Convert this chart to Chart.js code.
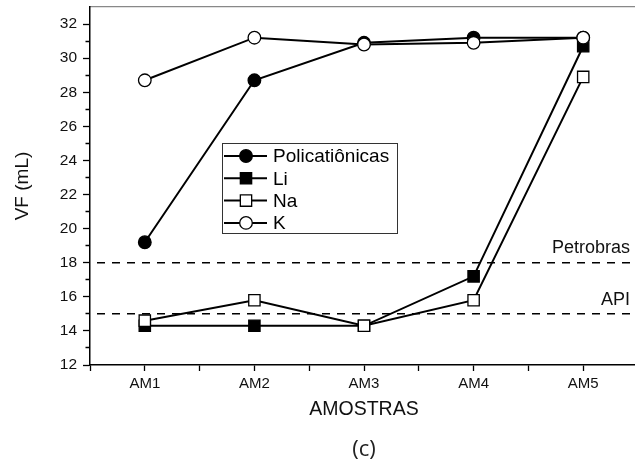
<!DOCTYPE html>
<html lang="pt-br">
<head>
<meta charset="UTF-8">
<title>VF x Amostras</title>
<script src="https://cdn.jsdelivr.net/npm/chart.js@4/dist/chart.umd.min.js"></script>
<style>
    body { margin: 0; background: #fff; }
    .quadro { width: 635px; height: 468px; overflow: hidden; position: relative; }
    canvas { position: absolute; left: 0; top: 0; }
</style>
</head>
<body>
<div class="quadro">
    <canvas id="canvas_grafico" width="638" height="468"></canvas>
</div>

<script>
    // amostras e volumes de filtrado (mL)
    const amostras = ['AM1', 'AM2', 'AM3', 'AM4', 'AM5'];
    const policationicas = [19.2, 28.7, 30.9, 31.2, 31.2];
    const li = [14.3, 14.3, 14.3, 17.2, 30.7];
    const na = [14.6, 15.8, 14.3, 15.8, 28.9];
    const k = [28.7, 31.2, 30.8, 30.9, 31.2];

    // limites de referencia
    const limitePetrobras = 18;
    const limiteAPI = 15;

    const fonte = "'Liberation Sans', Arial, sans-serif";

    function pontos(valores) {
        return valores.map(function (v, i) { return { x: i + 1, y: v }; });
    }

    function linhaLimite(valor) {
        return [{ x: 0.5, y: valor }, { x: 5.5, y: valor }];
    }

    const serie = {
        borderColor: '#000',
        borderWidth: 2,
        pointBorderColor: '#000',
        pointBorderWidth: 1.3,
        tension: 0
    };

    // legenda em caixa dentro da area do grafico
    const legendaQuadro = {
        id: 'legendaQuadro',
        afterDatasetsDraw(chart) {
            const ctx = chart.ctx;
            const itens = chart.data.datasets.filter(function (d) { return d.naLegenda; });
            ctx.save();
            ctx.strokeStyle = '#333';
            ctx.lineWidth = 1;
            ctx.fillStyle = '#fff';
            ctx.fillRect(222, 143, 175, 90);
            ctx.strokeRect(222.5, 143.5, 175, 90);
            itens.forEach(function (d, i) {
                const y = 156 + i * 22.3;
                ctx.strokeStyle = '#000';
                ctx.lineWidth = 2;
                ctx.beginPath();
                ctx.moveTo(224, y);
                ctx.lineTo(267, y);
                ctx.stroke();
                ctx.fillStyle = d.pointBackgroundColor;
                ctx.strokeStyle = '#000';
                ctx.lineWidth = 1.3;
                Chart.helpers.drawPoint(ctx, { pointStyle: d.pointStyle, rotation: 0, radius: d.pointRadius, borderWidth: 1.3 }, 246, y);
                ctx.fillStyle = '#000';
                ctx.font = '19px ' + fonte;
                ctx.textBaseline = 'middle';
                ctx.textAlign = 'left';
                ctx.fillText(d.label, 273, y + 1);
            });
            ctx.restore();
        }
    };

    // rotulos das linhas de limite
    const rotulosLimite = {
        id: 'rotulosLimite',
        afterDatasetsDraw(chart) {
            const ctx = chart.ctx;
            const escalaY = chart.scales.y;
            const xDir = chart.chartArea.right - 8;
            ctx.save();
            ctx.fillStyle = '#111';
            ctx.font = '18px ' + fonte;
            ctx.textAlign = 'right';
            ctx.textBaseline = 'middle';
            ctx.fillText('Petrobras', xDir, escalaY.getPixelForValue(limitePetrobras) - 15);
            ctx.fillText('API', xDir, escalaY.getPixelForValue(limiteAPI) - 14);
            ctx.restore();
        }
    };

    const ctx = document.getElementById('canvas_grafico').getContext('2d');
    const myChart = new Chart(ctx, {
        type: 'line',
        data: {
            datasets: [
                Object.assign({}, serie, {
                    label: 'Policatiônicas', data: pontos(policationicas), naLegenda: true,
                    pointStyle: 'circle', pointRadius: 6.3, pointBackgroundColor: '#000', order: 3
                }),
                Object.assign({}, serie, {
                    label: 'Li', data: pontos(li), naLegenda: true,
                    pointStyle: 'rect', pointRadius: 8, pointBackgroundColor: '#000', order: 2
                }),
                Object.assign({}, serie, {
                    label: 'Na', data: pontos(na), naLegenda: true,
                    pointStyle: 'rect', pointRadius: 8, pointBackgroundColor: '#fff', order: 1
                }),
                Object.assign({}, serie, {
                    label: 'K', data: pontos(k), naLegenda: true,
                    pointStyle: 'circle', pointRadius: 6.3, pointBackgroundColor: '#fff', order: 0
                }),
                {
                    label: 'Petrobras', data: linhaLimite(limitePetrobras),
                    borderColor: '#000', borderWidth: 1.5, borderDash: [8, 7], borderDashOffset: 8,
                    pointRadius: 0, order: 5
                },
                {
                    label: 'API', data: linhaLimite(limiteAPI),
                    borderColor: '#000', borderWidth: 1.5, borderDash: [8, 7], borderDashOffset: 8,
                    pointRadius: 0, order: 5
                }
            ]
        },
        options: {
            responsive: false,
            animation: false,
            devicePixelRatio: 1,
            layout: { autoPadding: false, padding: { top: 7, left: 0, right: 0, bottom: 0 } },
            plugins: {
                legend: { display: false },
                tooltip: { enabled: false },
                title: {
                    display: true,
                    text: '(c)',
                    position: 'bottom',
                    fullSize: false,
                    color: '#222',
                    font: { family: "'Open Sans', 'Noto Sans', sans-serif", size: 22, weight: 'normal' },
                    padding: { top: 4, bottom: 5 }
                }
            },
            scales: {
                x: {
                    type: 'linear',
                    position: 'bottom',
                    min: 0.5,
                    max: 5.5,
                    afterFit: function (scale) {
                        scale.height = 67.6;
                        scale.paddingLeft = 0;
                        scale.paddingRight = 0;
                    },
                    border: { color: '#000', width: 1.5 },
                    grid: { drawOnChartArea: false, drawTicks: true, tickLength: 6, tickColor: '#000', tickWidth: 1.3 },
                    ticks: {
                        stepSize: 0.5,
                        autoSkip: false,
                        maxRotation: 0,
                        padding: 4,
                        color: '#111',
                        font: { family: fonte, size: 15 },
                        callback: function (v) { return Number.isInteger(v) ? amostras[v - 1] : ''; }
                    },
                    title: {
                        display: true,
                        text: 'AMOSTRAS',
                        color: '#111',
                        font: { family: fonte, size: 19.5 },
                        padding: { top: 0, bottom: 11 }
                    }
                },
                topo: {
                    type: 'linear',
                    position: 'top',
                    display: true,
                    min: 0.5,
                    max: 5.5,
                    afterFit: function (scale) {
                        scale.height = 0;
                        scale.paddingLeft = 0;
                        scale.paddingRight = 0;
                    },
                    border: { color: '#888', width: 1.3 },
                    grid: { drawOnChartArea: false, drawTicks: false },
                    ticks: { display: false }
                },
                y: {
                    min: 12,
                    max: 33,
                    afterFit: function (scale) {
                        scale.width = 90;
                        scale.paddingTop = 0;
                        scale.paddingBottom = 0;
                    },
                    afterBuildTicks: function (scale) {
                        scale.ticks = scale.ticks.filter(function (t) { return t.value <= 32; });
                    },
                    border: { color: '#000', width: 1.5 },
                    grid: {
                        drawOnChartArea: false,
                        drawTicks: true,
                        tickLength: 7,
                        tickColor: '#000',
                        tickWidth: 1.3,
                        // marcas menores nos valores impares
                        tickBorderDash: function (c) { return c.tick && c.tick.value % 2 ? [0, 2.5, 4, 30] : []; }
                    },
                    ticks: {
                        stepSize: 1,
                        autoSkip: false,
                        padding: 6,
                        color: '#111',
                        font: { family: fonte, size: 15.5 },
                        callback: function (v) { return v % 2 === 0 ? v : ''; }
                    },
                    title: {
                        display: true,
                        text: 'VF (mL)',
                        color: '#111',
                        font: { family: fonte, size: 19 },
                        padding: { top: 11, bottom: 0 }
                    }
                }
            }
        },
        plugins: [legendaQuadro, rotulosLimite]
    });
</script>
</body>
</html>
